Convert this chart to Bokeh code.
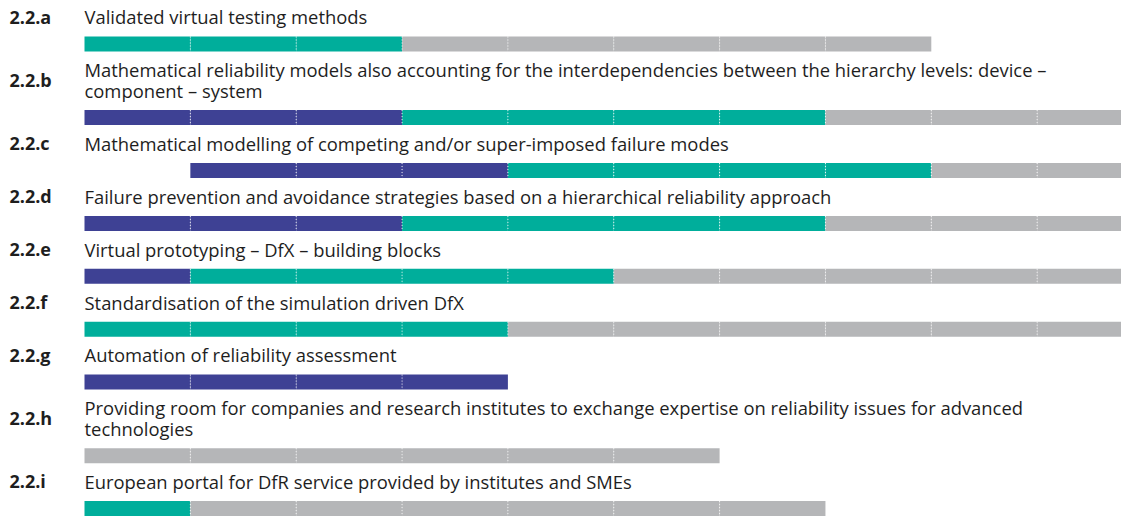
from bokeh.plotting import figure
from bokeh.models import Range1d, ColumnDataSource
from bokeh.embed import file_html
from bokeh.resources import INLINE
from bokeh.core.properties import value

# ---- data ----
ids = ["2.2.a", "2.2.b", "2.2.c", "2.2.d", "2.2.e", "2.2.f", "2.2.g", "2.2.h", "2.2.i"]
titles = [
    ["Validated virtual testing methods"],
    ["Mathematical reliability models also accounting for the interdependencies between the hierarchy levels: device \u2013",
     "component \u2013 system"],
    ["Mathematical modelling of competing and/or super-imposed failure modes"],
    ["Failure prevention and avoidance strategies based on a hierarchical reliability approach"],
    ["Virtual prototyping \u2013 DfX \u2013 building blocks"],
    ["Standardisation of the simulation driven DfX"],
    ["Automation of reliability assessment"],
    ["Providing room for companies and research institutes to exchange expertise on reliability issues for advanced",
     "technologies"],
    ["European portal for DfR service provided by institutes and SMEs"],
]
start_period = [0, 0, 1, 0, 0, 0, 0, 0, 0]
blue_periods = [0, 3, 3, 3, 1, 0, 4, 0, 0]
teal_periods = [3, 4, 4, 4, 4, 4, 0, 0, 1]
gray_periods = [5, 3, 2, 3, 5, 6, 0, 6, 6]

# ---- style / layout ----
BLUE = "#3e4194"
TEAL = "#00ae9b"
GRAY = "#b5b6b8"
TEXT = "#1e1e1e"
FONT = "Open Sans"
W, H = 1121, 516
X0 = 84.0        # left edge of the first period (px)
SEG = 105.85     # width of one period
BAR_H = 15
LINE_H = 20.7
LABEL_TO_BAR = 12.7
BAR_TO_LABEL = 25.2
TEXT_SHIFT = -7.0

p = figure(width=W, height=H, output_backend="svg", toolbar_location=None,
           x_range=Range1d(0, W), y_range=Range1d(H, 0),
           min_border=0, outline_line_color=None)
p.axis.visible = False
p.xgrid.visible = False
p.ygrid.visible = False
p.background_fill_color = "white"
p.border_fill_color = "white"

rects = dict(left=[], right=[], top=[], bottom=[], color=[])
seps = dict(xs=[], ys=[])
t_x, t_y, t_txt = [], [], []
id_x, id_y, id_txt = [], [], []

baseline = 23.3
for i in range(len(ids)):
    lines = titles[i]
    for k, ln in enumerate(lines):
        t_x.append(X0)
        t_y.append(baseline + k * LINE_H + TEXT_SHIFT)
        t_txt.append(ln)
    id_x.append(9)
    id_y.append(baseline + (len(lines) - 1) * LINE_H / 2 + TEXT_SHIFT)
    id_txt.append(ids[i])
    bar_top = baseline + (len(lines) - 1) * LINE_H + LABEL_TO_BAR
    pos = start_period[i]
    colors = [BLUE] * blue_periods[i] + [TEAL] * teal_periods[i] + [GRAY] * gray_periods[i]
    for j, c in enumerate(colors):
        l = X0 + (pos + j) * SEG
        rects["left"].append(l)
        rects["right"].append(l + SEG)
        rects["top"].append(bar_top)
        rects["bottom"].append(bar_top + BAR_H)
        rects["color"].append(c)
        if j > 0:
            seps["xs"].append([l, l])
            seps["ys"].append([bar_top, bar_top + BAR_H])
    baseline = bar_top + BAR_H + BAR_TO_LABEL

p.quad(left="left", right="right", top="top", bottom="bottom", color="color",
       source=ColumnDataSource(rects), line_color=None)
p.multi_line(xs="xs", ys="ys", source=ColumnDataSource(seps), line_color="white",
             line_width=1, line_dash="1 2", line_alpha=0.9)

p.text(x=t_x, y=t_y, text=t_txt, text_font=value(FONT), text_font_size="18.4px",
       text_color=TEXT, text_baseline="alphabetic", text_align="left")
p.text(x=id_x, y=id_y, text=id_txt, text_font=value(FONT), text_font_size="18px",
       text_font_style="bold", text_color=TEXT, text_baseline="alphabetic", text_align="left")

open("out.html", "w").write(file_html(p, INLINE))
